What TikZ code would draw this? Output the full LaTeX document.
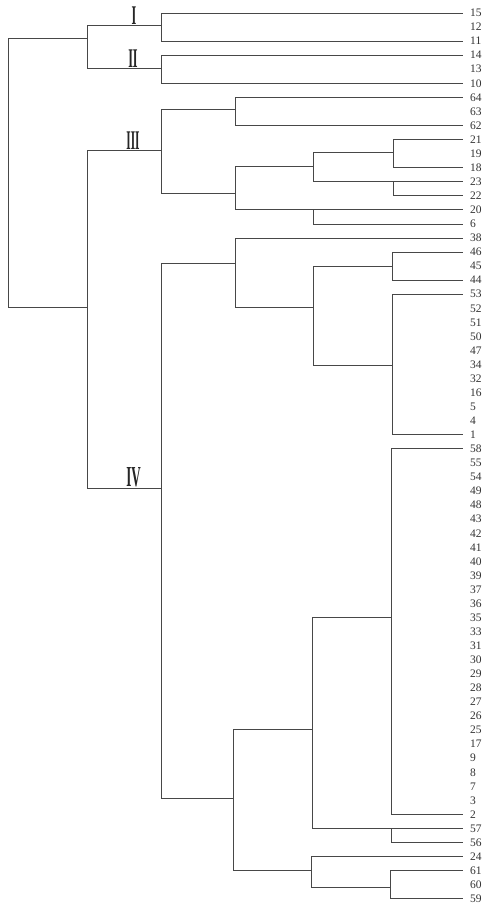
\documentclass[tikz,border=0pt]{standalone}
\usepackage{fontspec}
\setmainfont{Liberation Serif}
\begin{document}
\begin{tikzpicture}[x=1pt,y=-1pt,
  link/.style={draw=black!72,line width=0.75pt},
  lab/.style={anchor=west,inner xsep=7pt,inner ysep=0pt,font=\fontsize{11.5}{12}\selectfont,text=black!80},
  roman/.style={anchor=south,inner sep=0pt,font=\fontsize{27}{27}\selectfont\bfseries,text=black!85}]
\useasboundingbox[fill=white] (0,0) rectangle (492,908);
% leaves
\foreach \lab [count=\i from 0] in {15,12,11,14,13,10,64,63,62,21,19,18,23,22,20,6,38,46,45,44,53,52,51,50,47,34,32,16,5,4,1,58,55,54,49,48,43,42,41,40,39,37,36,35,33,31,30,29,28,27,26,25,17,9,8,7,3,2,57,56,24,61,60,59}
  \node[lab] (l\lab) at (463,{13+14.06*\i}) {\lab};
% junctions
\coordinate (r) at (8,38);
\coordinate (n12) at (87,38);
\coordinate (nI) at (161,25);
\coordinate (nII) at (161,68);
\coordinate (n34) at (87,307);
\coordinate (nIII) at (161,150);
\coordinate (nIV) at (161,488);
\coordinate (a) at (235,109);
\coordinate (b) at (235,193);
\coordinate (c) at (313,166);
\coordinate (d) at (393,152);
\coordinate (e) at (l23.west -| d);
\coordinate (f) at (l20.west -| c);
\coordinate (g) at (235,263);
\coordinate (i) at (313,307);
\coordinate (j) at (392,266);
\coordinate (k) at (392,365);
\coordinate (h) at (233,798);
\coordinate (B) at (312,729);
\coordinate (m) at (391,617);
\coordinate (n) at (l57.west -| m);
\coordinate (D) at (311,870);
\coordinate (o) at (390,887);
% connectors
\draw[link] (r) |- (n34);
\draw[link] (r) -- (n12);
\draw[link] (n12) |- (nI);
\draw[link] (n12) |- (nII);
\draw[link] (nI) |- (l15.west);
\draw[link] (nI) |- (l11.west);
\draw[link] (nII) |- (l14.west);
\draw[link] (nII) |- (l10.west);
\draw[link] (n34) |- (nIII);
\draw[link] (n34) |- (nIV);
\draw[link] (nIII) |- (a);
\draw[link] (nIII) |- (b);
\draw[link] (a) |- (l64.west);
\draw[link] (a) |- (l62.west);
\draw[link] (b) |- (c);
\draw[link] (b) |- (l20.west);
\draw[link] (c) |- (d);
\draw[link] (c) |- (l23.west);
\draw[link] (d) |- (l21.west);
\draw[link] (d) |- (l18.west);
\draw[link] (e) |- (l22.west);
\draw[link] (f) |- (l6.west);
\draw[link] (nIV) |- (g);
\draw[link] (nIV) |- (h);
\draw[link] (g) |- (l38.west);
\draw[link] (g) |- (i);
\draw[link] (i) |- (j);
\draw[link] (i) |- (k);
\draw[link] (j) |- (l46.west);
\draw[link] (j) |- (l44.west);
\draw[link] (k) |- (l53.west);
\draw[link] (k) |- (l1.west);
\draw[link] (h) |- (B);
\draw[link] (h) |- (D);
\draw[link] (B) |- (m);
\draw[link] (B) |- (l57.west);
\draw[link] (m) |- (l58.west);
\draw[link] (m) |- (l2.west);
\draw[link] (n) |- (l56.west);
\draw[link] (D) |- (l24.west);
\draw[link] (D) |- (o);
\draw[link] (o) |- (l61.west);
\draw[link] (o) |- (l59.west);
% cluster labels
\node[roman] (rI) at (134,24.5) {\scalebox{0.45}[1]{I}};
\node[roman] (rII) at (133,67.5) {\scalebox{0.45}[1]{II}};
\node[roman] (rIII) at (133,149.5) {\scalebox{0.42}[1]{III}};
\node[roman,font=\fontsize{29}{29}\selectfont\bfseries] (rIV) at (133.5,487.5) {\scalebox{0.45}[1]{IV}};
\end{tikzpicture}
\end{document}
